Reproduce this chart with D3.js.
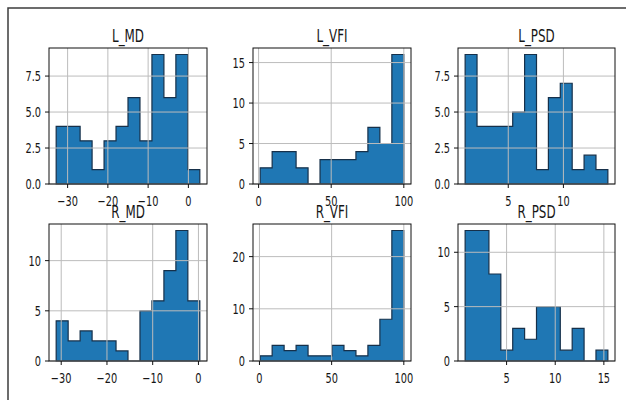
<!DOCTYPE html>
<html><head><meta charset="utf-8">
<script src="https://cdn.jsdelivr.net/npm/d3@7"></script>
<style>body{margin:0;background:#fff} svg{display:block}</style>
</head><body>
<svg id="fig" width="626" height="400"></svg>
<script>
// Histogram panels (12 equal-width bins each)
const titles = ["L_MD", "L_VFI", "L_PSD", "R_MD", "R_VFI", "R_PSD"];
const binLo = [-32.84, 1.1, 1.09, -31.1, 0.5, 0.74];
const binHi = [2.84, 100, 14.03, 0.3, 100, 15.41];
const countsLMD  = [4, 4, 3, 1, 3, 4, 6, 3, 9, 6, 9, 1];
const countsLVFI = [2, 4, 4, 2, 0, 3, 3, 3, 4, 7, 5, 16];
const countsLPSD = [9, 4, 4, 4, 5, 9, 1, 6, 7, 1, 2, 1];
const countsRMD  = [4, 2, 3, 2, 2, 1, 0, 5, 6, 9, 13, 6];
const countsRVFI = [1, 3, 2, 3, 1, 1, 3, 2, 1, 3, 8, 25];
const countsRPSD = [12, 12, 8, 1, 3, 2, 5, 5, 1, 3, 0, 1];
const xTicks = [[-30, -20, -10, 0], [0, 50, 100], [5, 10], [-30, -20, -10, 0], [0, 50, 100], [5, 10, 15]];
const yTicks = [[0, 2.5, 5, 7.5], [0, 5, 10, 15], [0, 2.5, 5, 7.5], [0, 5, 10], [0, 10, 20], [0, 5, 10]];
const yFormats = [".1f", "d", ".1f", "d", "d", "d"];

const allCounts = [countsLMD, countsLVFI, countsLPSD, countsRMD, countsRVFI, countsRPSD];

// Figure geometry
const colLeft = [49, 253, 458], colRight = [207, 411, 615];
const rowTop = [48, 224], rowBottom = [184, 361];
const barColor = "#1f77b4", barEdge = "#16304a", gridColor = "#bcbcbc";
const tickFont = 14, titleFont = 17, squeeze = 0.7;
const fontFam = "'DejaVu Sans', sans-serif";

const svg = d3.select("#fig");
svg.append("rect").attr("width", 626).attr("height", 400).attr("fill", "#fff");
// outer frame (top and left edges visible)
svg.append("path").attr("d", "M8,400V8H626").attr("fill", "none")
  .attr("stroke", "#3c3c3c").attr("stroke-width", 1.5);

function squeezedText(g, x, y, str, size, anchor) {
  return g.append("text")
    .attr("transform", `translate(${x},${y}) scale(${squeeze},1)`)
    .attr("text-anchor", anchor)
    .attr("font-family", fontFam)
    .attr("font-size", size)
    .attr("fill", "#161616")
    .text(str);
}

titles.forEach((title, i) => {
  const c = i % 3, r = Math.floor(i / 3);
  const L = colLeft[c], R = colRight[c], T = rowTop[r], B = rowBottom[r];
  const counts = allCounts[i];
  const n = counts.length;
  const span = binHi[i] - binLo[i];
  const pad = span * 0.05;
  const x = d3.scaleLinear().domain([binLo[i] - pad, binHi[i] + pad]).range([L, R]);
  const y = d3.scaleLinear().domain([0, d3.max(counts) * 1.05]).range([B, T]);
  const edges = d3.range(n + 1).map(k => binLo[i] + span * k / n);

  const g = svg.append("g");
  g.append("rect").attr("x", L).attr("y", T).attr("width", R - L).attr("height", B - T).attr("fill", "#fff");

  // filled step outline of the histogram
  const pts = [[edges[0], 0]];
  counts.forEach((v, k) => { pts.push([edges[k], v]); pts.push([edges[k + 1], v]); });
  pts.push([edges[n], 0]);
  const area = d3.line().x(d => x(d[0])).y(d => y(d[1]));
  g.append("path").attr("d", area(pts) + "Z")
    .attr("fill", barColor).attr("stroke", barEdge).attr("stroke-width", 1.2)
    .attr("stroke-linejoin", "miter");

  // grid above the bars
  g.selectAll("line.gx").data(xTicks[i]).join("line")
    .attr("x1", d => x(d)).attr("x2", d => x(d)).attr("y1", T).attr("y2", B)
    .attr("stroke", gridColor).attr("stroke-width", 1);
  g.selectAll("line.gy").data(yTicks[i]).join("line")
    .attr("y1", d => y(d)).attr("y2", d => y(d)).attr("x1", L).attr("x2", R)
    .attr("stroke", gridColor).attr("stroke-width", 1);

  // spines
  g.append("rect").attr("x", L).attr("y", T).attr("width", R - L).attr("height", B - T)
    .attr("fill", "none").attr("stroke", "#111").attr("stroke-width", 1);

  // x ticks
  const fx = d3.format("d");
  xTicks[i].forEach(t => {
    g.append("line").attr("x1", x(t)).attr("x2", x(t)).attr("y1", B).attr("y2", B + 4)
      .attr("stroke", "#111").attr("stroke-width", 1);
    squeezedText(g, x(t), B + 22, fx(t), tickFont, "middle");
  });
  // y ticks
  const fy = d3.format(yFormats[i]);
  yTicks[i].forEach(t => {
    g.append("line").attr("x1", L - 4).attr("x2", L).attr("y1", y(t)).attr("y2", y(t))
      .attr("stroke", "#111").attr("stroke-width", 1);
    squeezedText(g, L - 8, y(t) + 5, fy(t), tickFont, "end");
  });

  squeezedText(g, (L + R) / 2, T - 6, title, titleFont, "middle");
});
</script>
</body></html>
